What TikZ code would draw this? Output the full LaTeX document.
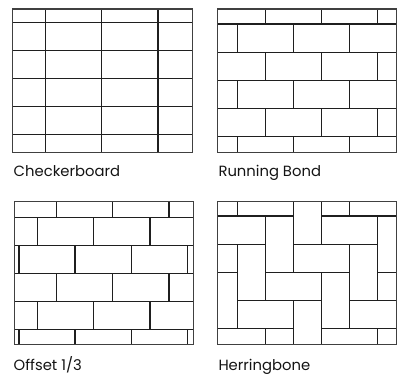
\documentclass[tikz,border=0pt]{standalone}
\usepackage{fontspec}
\setmainfont{Poppins}
\begin{document}
\begin{tikzpicture}[x=1pt,y=-1pt,
  tile/.style={draw=black!88,line width=1.3pt},
  frame/.style={draw=black!75,line width=1.3pt},
  lbl/.style={anchor=base west,inner sep=0pt,font=\fontsize{14.8}{17}\selectfont,text=black!92}]
\useasboundingbox (0,0) rectangle (403,387);
% ---------- Checkerboard ----------
\begin{scope}
\clip (12.7,9) rectangle (192.3,152.3);
\foreach \x in {45.7,101.7,157.9} \draw[tile] (\x,0) -- (\x,160);
\foreach \y in {22.7,50.7,78.7,106.6,134.5} \draw[tile] (0,\y) -- (200,\y);
\end{scope}
\draw[frame] (12.7,9) rectangle (192.3,152.3);
\node[lbl] (l1) at (13.5,176.7) {Checkerboard};
% ---------- Running Bond ----------
\begin{scope}
\clip (217.3,9) rectangle (396.7,152.3);
\foreach \y in {24,52.17,80.33,108.5,136.67} \draw[tile] (210,\y) -- (400,\y);
\foreach \ya/\yb/\o in {9/24/0,24/52.17/1,52.17/80.33/0,80.33/108.5/1,108.5/136.67/0,136.67/152.3/1}{
  \foreach \k in {0,1,2}{
    \draw[tile] ({265.7-28*\o+56*\k},\ya) -- ({265.7-28*\o+56*\k},\yb);
  }
}
\end{scope}
\draw[frame] (217.3,9) rectangle (396.7,152.3);
\node[lbl] (l2) at (218.3,176.7) {Running Bond};
% ---------- Offset 1/3 ----------
\begin{scope}
\clip (14.3,201.7) rectangle (193.7,344.7);
\foreach \y in {217.3,245.3,273.35,301.4,329.5} \draw[tile] (0,\y) -- (200,\y);
\foreach \ya/\yb/\o in {201.7/217.3/56.7,217.3/245.3/37.7,245.3/273.35/19,273.35/301.4/56.7,301.4/329.5/37.7,329.5/344.7/19}{
  \foreach \k in {0,1,2,3}{
    \draw[tile] ({\o+56.1*\k},\ya) -- ({\o+56.1*\k},\yb);
  }
}
\end{scope}
\draw[frame] (14.3,201.7) rectangle (193.7,344.7);
\node[lbl] (l3) at (13.5,370.5) {Offset 1/3};
% ---------- Herringbone ----------
\begin{scope}
\clip (217.3,201.7) rectangle (396.7,344.7);
% horizontal bricks (row, start column)
\foreach \r/\s in {-1/0,-1/4,0/-1,0/3,1/-2,1/2,2/1,2/5,3/0,3/4,4/-1,4/3}{
  \draw[tile] ({237.3+28*\s},{216+28.15*\r}) rectangle ({237.3+28*(\s+2)},{216+28.15*(\r+1)});
}
% vertical bricks (column, start row)
\foreach \c/\t in {-1/-2,-1/2,0/1,1/0,1/4,2/-1,2/3,3/-2,3/2,4/1,5/0,5/4}{
  \draw[tile] ({237.3+28*\c},{216+28.15*\t}) rectangle ({237.3+28*(\c+1)},{216+28.15*(\t+2)});
}
\end{scope}
\draw[frame] (217.3,201.7) rectangle (396.7,344.7);
\node[lbl] (l4) at (218.3,370.5) {Herringbone};
\end{tikzpicture}
\end{document}
